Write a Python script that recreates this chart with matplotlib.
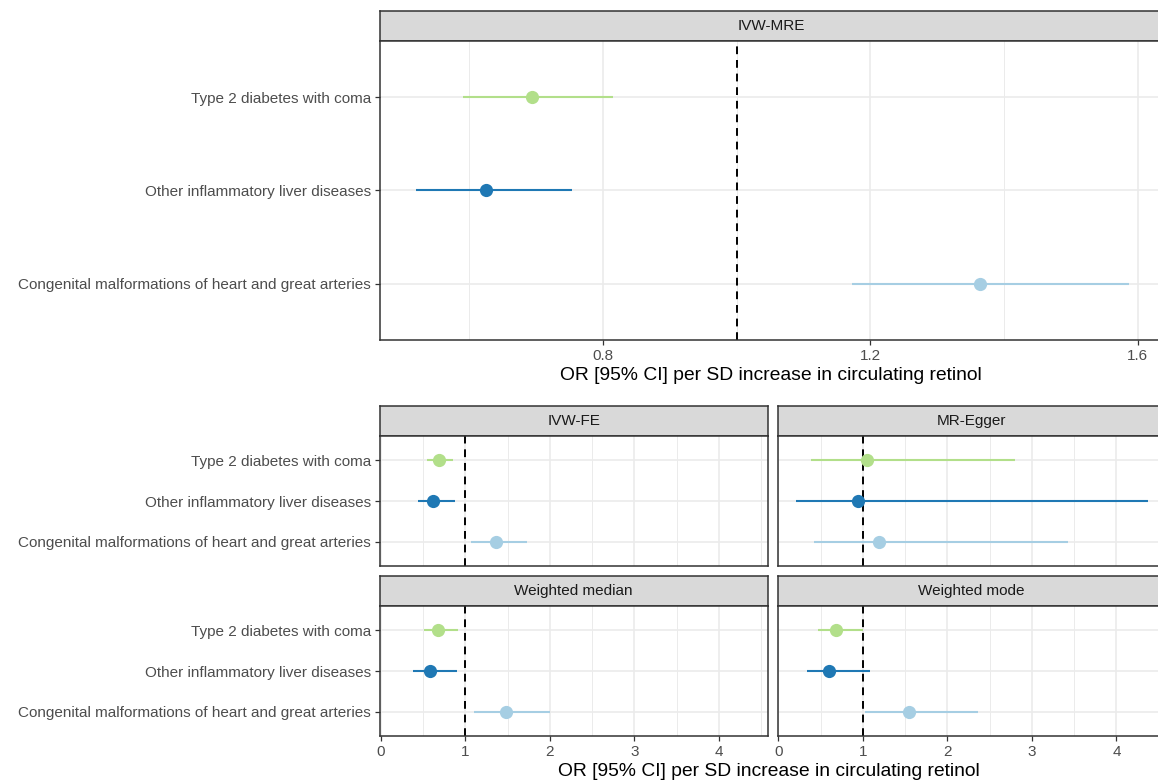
import matplotlib
matplotlib.use("Agg")
import matplotlib.pyplot as plt
from matplotlib.ticker import MultipleLocator

plt.rcParams['font.family'] = ['Liberation Sans', 'DejaVu Sans']

outcomes = ["Type 2 diabetes with coma",
            "Other inflammatory liver diseases",
            "Congenital malformations of heart and great arteries"]
colors = ["#B2DF8A", "#1F78B4", "#A6CEE3"]

# IVW-MRE
mre_or = [0.694, 0.625, 1.364]
mre_lo = [0.590, 0.520, 1.173]
mre_hi = [0.815, 0.754, 1.587]
# IVW-FE
fe_or = [0.686, 0.620, 1.360]
fe_lo = [0.550, 0.440, 1.070]
fe_hi = [0.856, 0.880, 1.730]
# MR-Egger
eg_or = [1.050, 0.940, 1.195]
eg_lo = [0.390, 0.210, 0.420]
eg_hi = [2.800, 4.370, 3.430]
# Weighted median
wmed_or = [0.680, 0.580, 1.480]
wmed_lo = [0.510, 0.375, 1.100]
wmed_hi = [0.910, 0.900, 2.000]
# Weighted mode
wmod_or = [0.680, 0.600, 1.550]
wmod_lo = [0.465, 0.340, 1.020]
wmod_hi = [1.000, 1.090, 2.360]

xlabel = "OR [95% CI] per SD increase in circulating retinol"

W, H = 1158, 782
fig = plt.figure(figsize=(W / 100, H / 100), dpi=100)
fig.patch.set_facecolor("white")

GREY20 = "#333333"
GRID = "#EBEBEB"
TICKFS = 11
STRIPFS = 11
TITLEFS = 13.9


def box(x0, y0, x1, y1):
    return [x0 / W, 1 - y1 / H, (x1 - x0) / W, (y1 - y0) / H]


def strip(x0, y0, x1, y1, label):
    s = fig.add_axes(box(x0, y0, x1, y1))
    s.set_facecolor("#D9D9D9")
    s.set_xticks([]); s.set_yticks([])
    for sp in s.spines.values():
        sp.set_color(GREY20); sp.set_linewidth(1.1)
    s.text(0.5, 0.5, label, ha="center", va="center", fontsize=STRIPFS, color="#1A1A1A",
           transform=s.transAxes)
    return s


def panel(x0, y0, x1, y1, orr, lo, hi, xlim, major, minor, ylabels, xticklabels, ms, lw):
    ax = fig.add_axes(box(x0, y0, x1, y1))
    ax.set_facecolor("white")
    ys = [3, 2, 1]
    ax.set_xlim(*xlim)
    ax.set_ylim(0.4, 3.6)
    ax.xaxis.set_major_locator(MultipleLocator(major))
    ax.xaxis.set_minor_locator(MultipleLocator(minor))
    ax.grid(True, which="major", color=GRID, lw=1.2, zorder=0)
    ax.grid(True, which="minor", axis="x", color=GRID, lw=0.7, zorder=0)
    ax.set_axisbelow(True)
    ax.axvline(1, color="black", ls=(0, (4, 3)), lw=1.4, zorder=2)
    for i in range(3):
        ax.plot([lo[i], hi[i]], [ys[i], ys[i]], color=colors[i], lw=lw, zorder=3,
                solid_capstyle="butt")
        ax.plot([orr[i]], [ys[i]], "o", color=colors[i], ms=ms, mew=0, zorder=4)
    ax.set_yticks(ys)
    ax.tick_params(which="major", color=GREY20, length=3.5, width=0.9, pad=3)
    ax.tick_params(axis="x", which="minor", length=0)
    if ylabels:
        ax.set_yticklabels(outcomes, fontsize=TICKFS, color="#4D4D4D")
    else:
        ax.set_yticklabels([])
        ax.tick_params(axis="y", length=0)
    if not xticklabels:
        ax.tick_params(axis="x", which="major", length=0, labelbottom=False)
    else:
        ax.tick_params(axis="x", which="major", labelsize=TICKFS, labelcolor="#4D4D4D")
    for sp in ax.spines.values():
        sp.set_color(GREY20); sp.set_linewidth(1.1)
    return ax


# top panel
strip(380, 11, 1162, 41, "IVW-MRE")
top = panel(380, 41, 1162, 340, mre_or, mre_lo, mre_hi, (0.4665, 1.636), 0.4, 0.2,
            True, True, 9.5, 1.5)
top.set_xticks([0.8, 1.2, 1.6])
top.set_xlabel(xlabel, fontsize=TITLEFS, color="black", labelpad=3)

xl = (-0.01, 4.575)
L0, L1 = 380, 767.5
R0, R1 = 777.5, 1165
strip(L0, 406, L1, 436, "IVW-FE")
panel(L0, 436, L1, 566, fe_or, fe_lo, fe_hi, xl, 1, 0.5, True, False, 9.5, 1.5)
strip(R0, 406, R1, 436, "MR-Egger")
panel(R0, 436, R1, 566, eg_or, eg_lo, eg_hi, xl, 1, 0.5, False, False, 9.5, 1.5)
strip(L0, 576, L1, 606, "Weighted median")
panel(L0, 606, L1, 736, wmed_or, wmed_lo, wmed_hi, xl, 1, 0.5, True, True, 9.5, 1.5)
strip(R0, 576, R1, 606, "Weighted mode")
panel(R0, 606, R1, 736, wmod_or, wmod_lo, wmod_hi, xl, 1, 0.5, False, True, 9.5, 1.5)

fig.text((380 + 1158) / 2 / W, 1 - 772 / H, xlabel, ha="center", va="center",
         fontsize=TITLEFS, color="black")

fig.savefig("out.png", dpi=100, facecolor="white")
